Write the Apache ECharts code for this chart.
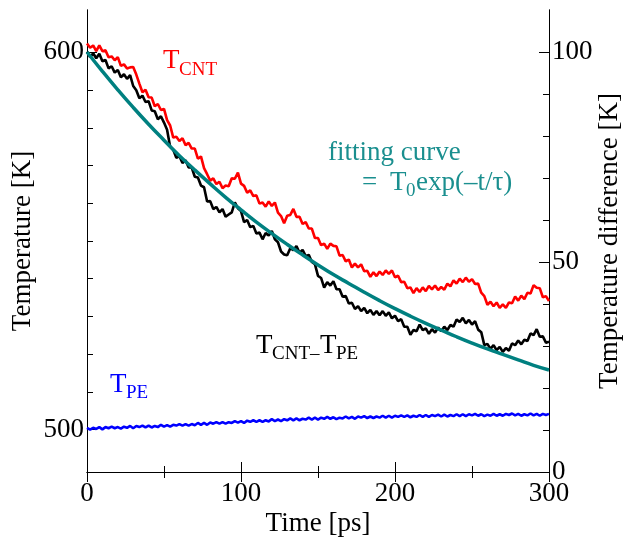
<!DOCTYPE html>
<html>
<head>
<meta charset="utf-8">
<script src="https://cdn.jsdelivr.net/npm/echarts@6/dist/echarts.min.js"></script>
<style>html,body{margin:0;padding:0;background:#fff}#c{width:623px;height:544px}</style>
</head>
<body>
<div id="c"></div>
<script>
// Time [ps]
var timePs = [0,2,4,6,8,10,12,14,16,18,20,22,24,26,28,30,32,34,36,38,40,42,44,46,48,50,52,54,56,58,60,62,64,66,68,70,72,74,76,78,80,82,84,86,88,90,92,94,96,98,100,102,104,106,108,110,112,114,116,118,120,122,124,126,128,130,132,134,136,138,140,142,144,146,148,150,152,154,156,158,160,162,164,166,168,170,172,174,176,178,180,182,184,186,188,190,192,194,196,198,200,202,204,206,208,210,212,214,216,218,220,222,224,226,228,230,232,234,236,238,240,242,244,246,248,250,252,254,256,258,260,262,264,266,268,270,272,274,276,278,280,282,284,286,288,290,292,294,296,298,300];
// T_CNT [K] (left axis)
var tCNT = [602.3,601.2,601.8,600.3,601.8,600.3,600.5,598.7,598.9,597.9,598.7,596.4,596.8,595.7,596.0,596.1,594.1,591.7,589.4,590.1,588.1,588.0,585.7,586.3,584.7,585.0,582.0,580.6,577.4,577.6,576.5,577.2,575.4,576.0,574.5,574.5,571.8,572.4,569.3,567.7,566.0,566.6,565.1,565.7,564.0,564.7,564.5,566.6,566.5,568.1,565.2,564.6,562.8,563.4,561.9,562.1,559.9,560.2,559.1,560.5,559.3,560.2,557.5,556.6,554.7,556.7,556.9,558.5,556.4,556.4,554.5,555.0,553.3,553.3,550.8,550.8,548.9,549.3,547.9,549.3,548.7,548.6,546.1,546.3,544.6,545.1,543.0,544.0,543.0,543.8,542.0,542.1,540.5,541.7,540.7,541.9,541.0,542.2,541.3,542.2,540.4,540.8,539.1,539.2,537.5,537.7,536.2,537.5,536.5,537.7,536.7,538.1,537.2,538.2,537.0,537.8,537.1,538.7,538.0,539.6,538.7,540.0,539.1,540.3,539.2,539.9,538.6,538.7,536.3,535.4,533.1,533.9,532.7,533.7,532.3,533.2,532.3,533.7,533.5,535.3,534.2,535.5,534.6,536.3,536.1,538.3,537.6,537.5,535.1,535.4,534.1];
// T_PE [K] (left axis)
var tPE = [500.5,500.0,500.5,500.2,500.7,500.1,500.7,500.4,500.8,500.4,500.7,500.3,500.8,500.5,501.0,500.4,501.0,500.7,501.1,500.6,501.1,500.6,501.0,500.7,501.3,500.8,501.2,500.8,501.3,501.1,501.5,501.1,501.5,501.1,501.5,501.2,501.8,501.3,501.8,501.3,501.9,501.6,502.0,501.6,502.0,501.6,502.0,501.8,502.3,501.9,502.3,501.8,502.4,502.1,502.5,502.1,502.5,502.1,502.5,502.2,502.8,502.3,502.7,502.3,502.8,502.5,503.0,502.5,503.0,502.5,502.9,502.7,503.2,502.7,503.2,502.7,503.2,502.9,503.4,502.9,503.3,502.8,503.2,503.0,503.5,503.0,503.4,502.9,503.5,503.2,503.6,503.1,503.5,503.1,503.5,503.2,503.7,503.2,503.7,503.2,503.7,503.4,503.8,503.4,503.8,503.3,503.7,503.4,503.9,503.4,503.9,503.4,503.9,503.6,504.0,503.5,504.0,503.5,503.9,503.6,504.1,503.6,504.1,503.6,504.1,503.8,504.2,503.7,504.1,503.6,504.0,503.7,504.2,503.7,504.1,503.7,504.2,503.9,504.3,503.8,504.2,503.7,504.1,503.8,504.3,503.8,504.2,503.7,504.2,503.9,504.2];
// T_CNT - T_PE [K] (right axis)
var tDiff = [100.1,98.8,99.7,98.5,99.6,97.8,98.1,96.1,96.6,95.1,95.7,94.0,94.7,93.6,94.5,91.9,90.9,89.0,89.6,88.1,88.3,86.1,85.9,84.0,84.7,83.2,81.5,77.4,76.7,74.8,75.2,73.6,74.2,72.5,72.5,70.3,70.1,68.2,67.8,64.4,64.5,62.6,63.1,61.8,62.6,60.8,61.3,61.8,64.2,62.8,62.1,59.5,60.0,58.3,58.6,56.8,57.0,55.4,56.9,56.3,57.4,55.4,54.7,52.5,51.8,51.6,53.3,52.8,53.8,52.2,52.9,51.4,51.7,50.0,49.5,46.7,46.2,43.9,45.2,44.4,45.4,43.5,43.5,41.7,41.9,40.1,40.3,38.8,39.5,38.3,39.1,37.8,38.6,37.4,38.3,37.3,38.3,37.2,38.0,36.6,37.2,35.9,36.4,34.6,34.6,32.7,33.8,33.5,35.1,33.8,34.2,32.9,34.0,33.2,34.4,33.5,34.6,33.8,35.0,34.6,36.3,35.7,36.7,35.4,36.2,35.1,35.9,33.9,33.3,30.2,30.5,29.3,30.2,29.0,29.8,28.6,29.5,28.9,30.6,30.2,31.3,30.4,31.5,31.2,33.0,32.6,34.0,32.2,32.3,30.8,31.0];
// fitting curve T0 exp(-t/tau) [K] (right axis)
var fitTime = [0,10,20,30,40,50,60,70,80,90,100,110,120,130,140,150,160,170,180,190,200,210,220,230,240,250,260,270,280,290,300];
var fitVal = [100.0,95.4,91.0,86.8,82.8,79.0,75.3,71.9,68.6,65.4,62.4,59.5,56.8,54.2,51.7,49.3,47.0,44.9,42.8,40.8,38.9,37.1,35.4,33.8,32.2,30.7,29.3,28.0,26.7,25.4,24.3];
// tick values
var leftMajor = [500,600];
var leftMinor = [510,520,530,540,550,560,570,580,590];
var rightMajor = [0,50,100];
var rightMinor = [10,20,30,40,60,70,80,90];

function zip(a,b){var o=[];for(var i=0;i<a.length;i++)o.push([a[i],b[i]]);return o;}

var FONT = 'Liberation Serif';
var chart = echarts.init(document.getElementById('c'), null, {renderer:'canvas'});
var lineStyleAxis = {show:true, lineStyle:{color:'#000', width:1}};
function yAx(pos, min, max, ticks, len, labels, name, gap){
  var a = {type:'value', position:pos, min:min, max:max, splitLine:{show:false},
    axisLine: lineStyleAxis,
    axisTick:{show:true, inside:true, length:len, customValues:ticks, lineStyle:{color:'#000',width:1}},
    axisLabel: labels ? {show:true, customValues:labels, fontFamily:FONT, fontSize:27, color:'#000', margin:3} : {show:false}
  };
  if(name){a.name=name;a.nameLocation='middle';a.nameRotate=90;a.nameGap=gap;a.nameMoveOverlap=false;a.nameTextStyle={fontFamily:FONT,fontSize:27,color:'#000'};}
  return a;
}
function xAx(pos, labels, name){
  var a = {type:'value', position:pos, min:0, max:300, interval:100, splitLine:{show:false},
    axisLine: lineStyleAxis,
    axisTick:{show:true, inside:true, length:10, lineStyle:{color:'#000',width:1}},
    minorTick:{show:true, splitNumber:2, length:6, lineStyle:{color:'#000',width:1}},
    axisLabel: labels ? {show:true, fontFamily:FONT, fontSize:27, color:'#000', margin:8} : {show:false}
  };
  if(name){a.name=name;a.nameLocation='middle';a.nameGap=38;a.nameMoveOverlap=false;a.nameTextStyle={fontFamily:FONT,fontSize:27,color:'#000'};}
  return a;
}
function txt(x,y,s,size,color){
  return {type:'text', x:x, y:y, style:{text:s, fontFamily:FONT, fontSize:size, fill:color, verticalAlign:'middle', align:'left'}, z:100};
}
var teal = '#1a8f8f';
chart.setOption({
  animation:false,
  grid:{left:87, right:74, top:10, bottom:72, containLabel:false, outerBoundsMode:'none'},
  xAxis:[xAx('bottom', true, 'Time [ps]'), xAx('top', false, null)],
  yAxis:[
    yAx('left', 488.8, 611.2, leftMajor, 10, leftMajor, 'Temperature [K]', 51),
    yAx('left', 488.8, 611.2, leftMinor, 6, null, null, 0),
    yAx('right', 0, 110, rightMajor, 10, rightMajor, 'Temperature difference [K]', 47),
    yAx('right', 0, 110, rightMinor, 6, null, null, 0)
  ],
  series:[
    {name:'T_PE', type:'line', xAxisIndex:0, yAxisIndex:0, data:zip(timePs,tPE), showSymbol:false, lineStyle:{color:'#0000ff', width:2.6}, z:2},
    {name:'T_CNT', type:'line', xAxisIndex:0, yAxisIndex:0, data:zip(timePs,tCNT), showSymbol:false, lineStyle:{color:'#ff0000', width:2.6}, z:3},
    {name:'T_CNT-T_PE', type:'line', xAxisIndex:0, yAxisIndex:2, data:zip(timePs,tDiff), showSymbol:false, lineStyle:{color:'#000000', width:2.6}, z:4},
    {name:'fit', type:'line', xAxisIndex:0, yAxisIndex:2, data:zip(fitTime,fitVal), smooth:true, showSymbol:false, lineStyle:{color:'#008080', width:3.5}, z:5}
  ],
  graphic:[
    txt(163,61,'T',27,'#ff0000'), txt(179,70,'CNT',19,'#ff0000'),
    txt(328,153,'fitting curve',27,teal),
    txt(362,183,'=',27,teal), txt(390,183,'T',27,teal), txt(406,191,'0',19,teal), txt(416,183,'exp(\u2013t/\u03c4)',27,teal),
    txt(256,346,'T',27,'#000'), txt(272,354,'CNT\u2013',19,'#000'), txt(320,346,'T',27,'#000'), txt(336,354,'PE',19,'#000'),
    txt(110,385,'T',27,'#0000ff'), txt(126,393,'PE',19,'#0000ff')
  ]
});
</script>
</body>
</html>
